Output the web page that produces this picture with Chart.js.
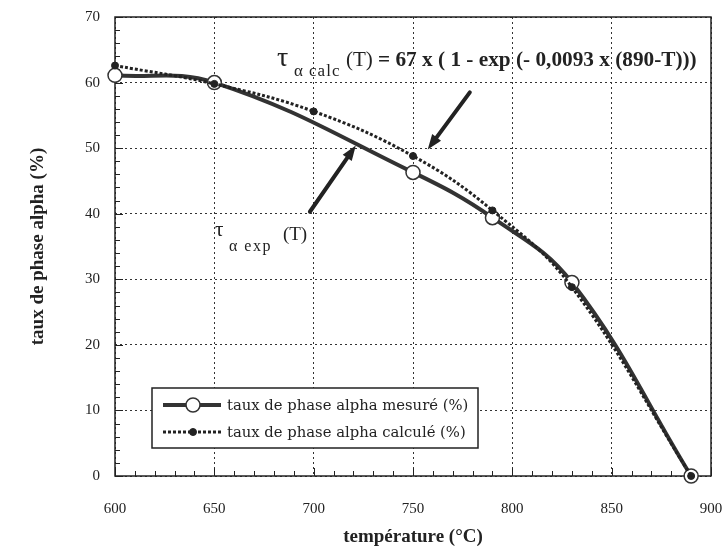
<!DOCTYPE html>
<html lang="fr">
<head>
  <meta charset="UTF-8">
  <title>Taux de phase alpha</title>
  <script src="https://cdn.jsdelivr.net/npm/chart.js"></script>
  <style>
    html, body { margin: 0; padding: 0; background: #fff; }
    #wrap { width: 727px; height: 552px; }
  </style>
</head>
<body>
  <div id="wrap">
    <canvas id="myChart" width="727" height="552"></canvas>
  </div>

  <script>
    // valeurs
    const tempMesure = [600, 650, 750, 790, 830, 890];
    const tauxMesure = [61.1, 60.0, 46.3, 39.4, 29.5, 0];
    const tempCalcule = [600, 650, 700, 750, 790, 830, 890];
    const tauxCalcule = [62.6, 59.8, 55.6, 48.8, 40.5, 28.8, 0];
    const xTicks = [600, 650, 700, 750, 800, 850, 900];
    const yTicks = [0, 10, 20, 30, 40, 50, 60, 70];
    const legendLabels = ['taux de phase alpha mesuré (%)', 'taux de phase alpha calculé (%)'];

    const ink = '#222';
    const serif = "'Liberation Serif', 'Times New Roman', serif";
    const legendFont = "14.8px 'DejaVu Serif', serif";

    function arrow(ctx, x1, y1, x2, y2) {
      const ang = Math.atan2(y2 - y1, x2 - x1);
      const hl = 15, hw = 5.5;
      const bx = x2 - hl * Math.cos(ang), by = y2 - hl * Math.sin(ang);
      ctx.beginPath();
      ctx.moveTo(x1, y1);
      ctx.lineTo(bx, by);
      ctx.stroke();
      ctx.beginPath();
      ctx.moveTo(x2, y2);
      ctx.lineTo(bx + hw * Math.sin(ang), by - hw * Math.cos(ang));
      ctx.lineTo(bx - hw * Math.sin(ang), by + hw * Math.cos(ang));
      ctx.closePath();
      ctx.fill();
    }

    const decor = {
      id: 'decor',
      beforeDatasetsDraw(chart) {
        const { ctx, chartArea: a, scales: { x, y } } = chart;
        ctx.save();
        ctx.strokeStyle = ink;
        ctx.lineWidth = 1;
        ctx.beginPath();
        for (let v = 0; v <= 70; v += 2) {
          const py = Math.round(y.getPixelForValue(v)) + 0.5;
          const len = v % 10 === 0 ? 8 : 5;
          ctx.moveTo(a.left, py);
          ctx.lineTo(a.left + len, py);
        }
        for (let v = 600; v <= 900; v += 10) {
          const px = Math.round(x.getPixelForValue(v)) + 0.5;
          const len = v % 50 === 0 ? 8 : 5;
          ctx.moveTo(px, a.bottom);
          ctx.lineTo(px, a.bottom - len);
        }
        ctx.stroke();
        ctx.lineWidth = 1.5;
        ctx.strokeRect(a.left, a.top, a.right - a.left, a.bottom - a.top);
        ctx.restore();
      },
      afterDraw(chart) {
        const { ctx, chartArea: a, scales: { x, y } } = chart;
        const ds = chart.data.datasets;
        ctx.save();

        // légende
        const lx = a.left + 37, ly = a.bottom - 88, lw = 326, lh = 60;
        ctx.fillStyle = '#fff';
        ctx.fillRect(lx, ly, lw, lh);
        ctx.strokeStyle = ink;
        ctx.lineWidth = 1.5;
        ctx.strokeRect(lx, ly, lw, lh);
        [17, 44].forEach((dy, i) => {
          const d = ds[i], ry = ly + dy;
          ctx.strokeStyle = d.borderColor;
          ctx.lineWidth = d.borderWidth;
          ctx.setLineDash(d.borderDash || []);
          ctx.beginPath();
          ctx.moveTo(lx + 11, ry);
          ctx.lineTo(lx + 69, ry);
          ctx.stroke();
          ctx.setLineDash([]);
          ctx.beginPath();
          ctx.arc(lx + 41, ry, d.pointRadius, 0, Math.PI * 2);
          ctx.fillStyle = d.pointBackgroundColor;
          ctx.fill();
          ctx.lineWidth = d.pointBorderWidth;
          ctx.strokeStyle = d.pointBorderColor;
          ctx.stroke();
          ctx.fillStyle = ink;
          ctx.font = legendFont;
          ctx.textBaseline = 'middle';
          ctx.fillText(legendLabels[i], lx + 75, ry + 1);
        });

        // formule
        ctx.fillStyle = ink;
        ctx.textBaseline = 'alphabetic';
        const fx = x.getPixelForValue(681.5), fy = y.getPixelForValue(62.5);
        ctx.font = '28px ' + serif;
        ctx.fillText('τ', fx, fy);
        ctx.font = '17px ' + serif;
        ctx.letterSpacing = '1px';
        ctx.fillText('α calc', fx + 17, fy + 10);
        ctx.letterSpacing = '0px';
        ctx.font = '21px ' + serif;
        ctx.fillText('(T)', fx + 69, fy);
        const tx = fx + 69 + ctx.measureText('(T)').width;
        const rest = ' = 67 x ( 1 - exp (- 0,0093 x (890-T)))';
        ctx.font = 'bold 20px ' + serif;
        const fs = 20 * (fx + 420 - tx) / ctx.measureText(rest).width;
        ctx.font = 'bold ' + fs.toFixed(2) + 'px ' + serif;
        ctx.fillText(rest, tx, fy);

        // courbe expérimentale
        const ex = x.getPixelForValue(650.3), ey = y.getPixelForValue(36.6);
        ctx.font = '21px ' + serif;
        ctx.fillText('τ', ex, ey);
        ctx.font = '16px ' + serif;
        ctx.letterSpacing = '1.5px';
        ctx.fillText('α exp', ex + 14, ey + 15);
        ctx.letterSpacing = '0px';
        ctx.font = '19px ' + serif;
        ctx.fillText('(T)', ex + 68, ey + 4);

        // flèches
        ctx.strokeStyle = ink;
        ctx.fillStyle = ink;
        ctx.lineWidth = 4;
        ctx.lineCap = 'round';
        arrow(ctx, x.getPixelForValue(778.6), y.getPixelForValue(58.5),
                   x.getPixelForValue(757.4), y.getPixelForValue(49.8));
        arrow(ctx, x.getPixelForValue(698.1), y.getPixelForValue(40.3),
                   x.getPixelForValue(721.2), y.getPixelForValue(50.4));
        ctx.restore();
      }
    };

    const ctx = document.getElementById('myChart').getContext('2d');
    const chart = new Chart(ctx, {
      type: 'line',
      data: {
        datasets: [
          {
            label: legendLabels[0],
            data: tempMesure.map((t, i) => ({ x: t, y: tauxMesure[i] })),
            borderColor: '#333',
            borderWidth: 4,
            tension: 0.4,
            pointRadius: 7,
            pointBackgroundColor: '#fff',
            pointBorderColor: '#333',
            pointBorderWidth: 1.5,
            clip: false,
            order: 2
          },
          {
            label: legendLabels[1],
            data: tempCalcule.map((t, i) => ({ x: t, y: tauxCalcule[i] })),
            borderColor: '#222',
            borderWidth: 3,
            borderDash: [3, 2],
            tension: 0.4,
            pointRadius: 3.5,
            pointBackgroundColor: '#222',
            pointBorderColor: '#222',
            pointBorderWidth: 1,
            clip: false,
            order: 1
          }
        ]
      },
      options: {
        responsive: false,
        animation: false,
        devicePixelRatio: 1,
        layout: { padding: { top: 17, right: 16, left: 0, bottom: 0 } },
        plugins: {
          legend: { display: false },
          tooltip: { enabled: false }
        },
        scales: {
          x: {
            type: 'linear',
            min: 600,
            max: 900,
            afterBuildTicks: s => { s.ticks = xTicks.map(v => ({ value: v })); },
            afterFit: s => { s.height = 76; s.paddingLeft = 0; s.paddingRight = 0; },
            grid: { color: '#333', lineWidth: 1, drawTicks: false },
            border: { display: false, dash: [2, 3] },
            ticks: { padding: 24, color: ink, font: { family: serif, size: 15 }, maxRotation: 0 },
            title: {
              display: true,
              text: 'température (°C)',
              color: ink,
              font: { family: serif, size: 19, weight: 'bold' },
              padding: { top: 0, bottom: 4 }
            }
          },
          y: {
            min: 0,
            max: 70,
            afterBuildTicks: s => { s.ticks = yTicks.map(v => ({ value: v })); },
            afterFit: s => { s.width = 115; s.paddingTop = 0; s.paddingBottom = 0; },
            grid: { color: '#333', lineWidth: 1, drawTicks: false },
            border: { display: false, dash: [2, 3] },
            ticks: { padding: 15, color: ink, font: { family: serif, size: 15 } },
            title: {
              display: true,
              text: 'taux de phase alpha (%)',
              color: ink,
              font: { family: serif, size: 19, weight: 'bold' },
              padding: { top: 27, bottom: 0 }
            }
          }
        }
      },
      plugins: [decor]
    });
  </script>
</body>
</html>
